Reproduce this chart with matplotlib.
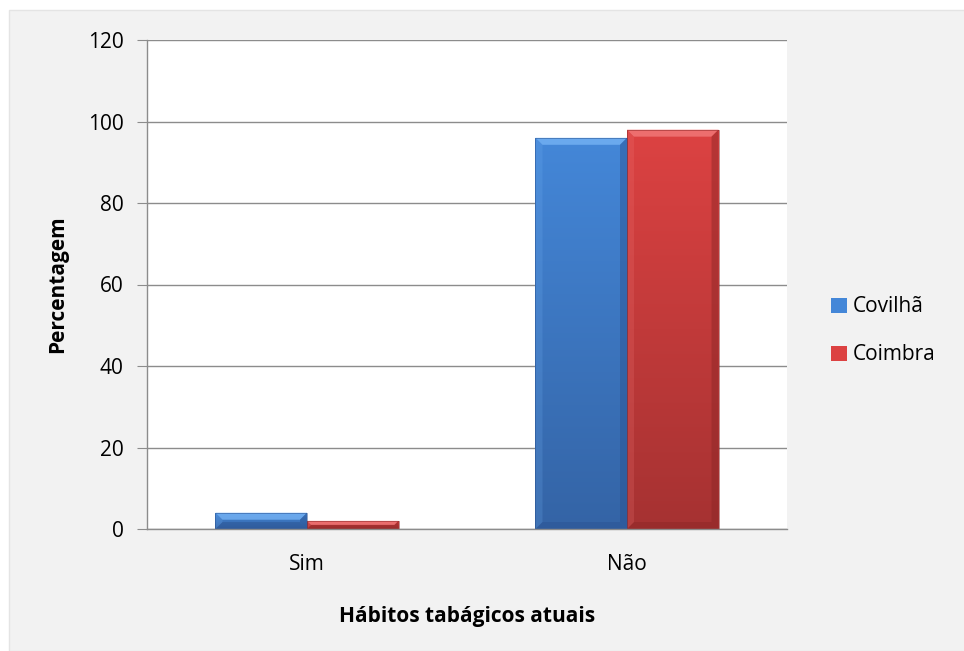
# Hábitos tabágicos atuais - Covilhã vs Coimbra

import numpy as np
import matplotlib
matplotlib.use('Agg')
import matplotlib.pyplot as plt
from matplotlib.patches import Rectangle, Polygon
from matplotlib.colors import to_rgb

categories = ['Sim', 'Não']
series_names = ['Covilhã', 'Coimbra']
covilha = [4, 96]
coimbra = [2, 98]

y_ticks = [0, 20, 40, 60, 80, 100, 120]

# (top, bottom, light bevel, dark bevel)
colors = {
    'Covilhã': ('#4487d8', '#3464a6', '#74b2f4', '#2a5290'),
    'Coimbra': ('#dc4242', '#a63232', '#f27a7a', '#8a2626'),
}

plt.rcParams['font.family'] = ['Open Sans', 'DejaVu Sans']

fig = plt.figure(figsize=(9.64, 6.51), dpi=100)
fig.patch.set_facecolor('white')
fig.patches.append(Rectangle((9 / 964, 0), 1, 641 / 651, transform=fig.transFigure,
                             facecolor='#f2f2f2', edgecolor='#e4e4e4', lw=1, zorder=-10))

ax = fig.add_axes([147 / 964, 1 - 529 / 651, 640 / 964, 489 / 651])
ax.set_facecolor('white')

x = np.arange(len(categories))
w = 0.286
ax.set_xlim(-0.5, len(categories) - 0.5)
ax.set_ylim(0, 120)
ax.set_yticks(y_ticks)
ax.yaxis.grid(True, color='#8c8c8c', lw=1)
ax.set_axisbelow(True)

bars_all = []
for i, (name, vals) in enumerate(zip(series_names, [covilha, coimbra])):
    b = ax.bar(x + (i - 0.5) * w, vals, w, color=colors[name][0], edgecolor='none',
               label=name, zorder=2)
    bars_all.append((name, b))

fig.canvas.draw()
to_disp = ax.transData.transform
to_data = ax.transData.inverted().transform

for name, b in bars_all:
    top_c, bot_c, light, dark = colors[name]
    for p in b.patches:
        x0, y0 = p.get_x(), p.get_y()
        x1, y1 = x0 + p.get_width(), y0 + p.get_height()
        # vertical gradient clipped to the bar
        grad = np.linspace(0, 1, 64)[:, None]
        c0, c1 = np.array(to_rgb(top_c)), np.array(to_rgb(bot_c))
        img = (c0[None, None, :] * (1 - grad[..., None]) + c1[None, None, :] * grad[..., None])
        img = np.repeat(img, 2, axis=1)
        im = ax.imshow(img, extent=(x0, x1, y0, y1), aspect='auto', zorder=2.1,
                       interpolation='bilinear')
        im.set_clip_path(p)
        # bevel in pixels
        (dx0, dy0), (dx1, dy1) = to_disp([(x0, y0), (x1, y1)])
        bv = min(7, (dy1 - dy0) / 2, (dx1 - dx0) / 2)
        outer = [(dx0, dy0), (dx1, dy0), (dx1, dy1), (dx0, dy1)]
        inner = [(dx0 + bv, dy0 + bv), (dx1 - bv, dy0 + bv), (dx1 - bv, dy1 - bv), (dx0 + bv, dy1 - bv)]
        faces = [
            ([outer[3], outer[2], inner[2], inner[3]], light, 0.8),    # top
            ([outer[0], outer[1], inner[1], inner[0]], dark, 0.45),    # bottom
            ([outer[0], outer[3], inner[3], inner[0]], light, 0.2),    # left
            ([outer[1], outer[2], inner[2], inner[1]], dark, 0.45),    # right
        ]
        for pts, c, a in faces:
            ax.add_patch(Polygon(to_data(pts), closed=True, facecolor=c, edgecolor='none',
                                 alpha=a, zorder=2.2))
        ax.add_patch(Rectangle((x0, y0), x1 - x0, y1 - y0, facecolor='none',
                               edgecolor=dark, lw=0.6, alpha=0.6, zorder=2.3))

ax.set_xticks(x)
ax.set_xticklabels(categories, fontsize=15)
ax.tick_params(axis='x', length=0, pad=18)
ax.tick_params(axis='y', labelsize=15, length=7, color='#8c8c8c', pad=10, direction='out')

for s in ['top', 'right']:
    ax.spines[s].set_visible(False)
for s in ['left', 'bottom']:
    ax.spines[s].set_color('#8c8c8c')
    ax.spines[s].set_linewidth(1)

ax.set_ylabel('Percentagem', fontsize=15, fontweight='bold', labelpad=14)
ax.set_xlabel('Hábitos tabágicos atuais', fontsize=15, fontweight='bold', labelpad=22)

leg = ax.legend(loc='center left', bbox_to_anchor=(1.04, 0.405), frameon=False,
                fontsize=15, handlelength=0.75, handleheight=0.75, handletextpad=0.3,
                labelspacing=1.3)

fig.savefig('out.png', dpi=100, facecolor=fig.get_facecolor())
